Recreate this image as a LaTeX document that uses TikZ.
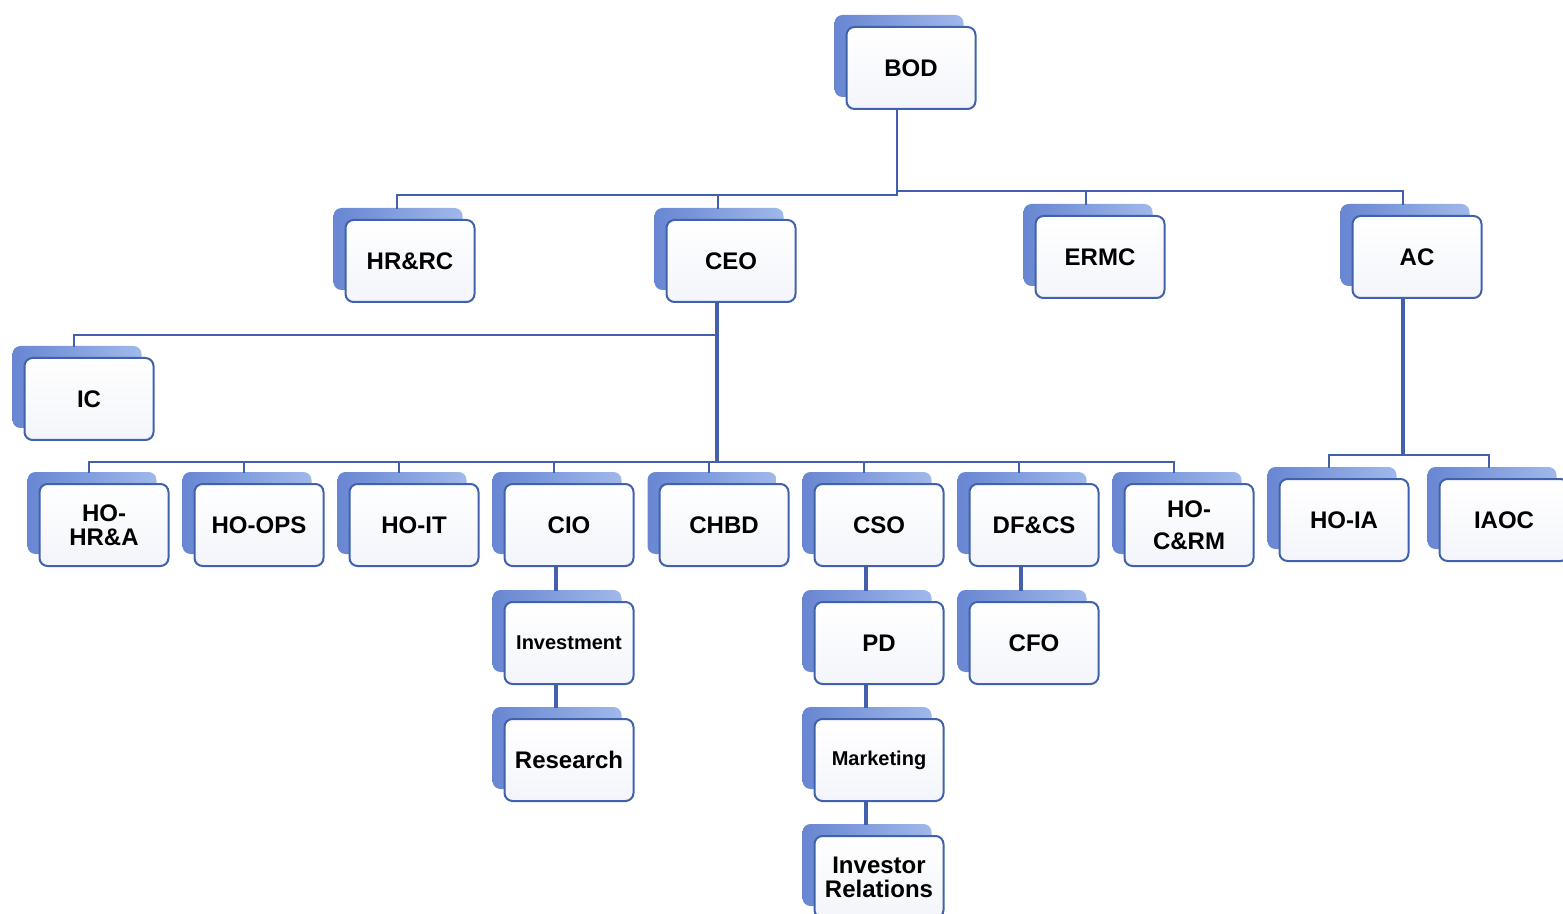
\documentclass[tikz,border=0pt]{standalone}
\usepackage{fontspec}
\setmainfont{Liberation Sans}
\usetikzlibrary{shadows}
\definecolor{linkblue}{RGB}{66,96,172}
\definecolor{boxedge}{RGB}{64,98,172}
\definecolor{boxfill}{RGB}{243,245,251}
\definecolor{shadowdark}{RGB}{104,134,210}
\definecolor{shadowlight}{RGB}{160,184,234}
\tikzset{
  unit/.style={draw=boxedge,line width=1pt,rounded corners=4pt,
    top color=white,bottom color=boxfill,
    minimum width=64.5pt,minimum height=41pt,align=center,
    font=\fontsize{12}{12}\selectfont\bfseries,
    general shadow={shadow xshift=-6pt,shadow yshift=6pt,
      left color=shadowdark,right color=shadowlight,draw=none}},
  small/.style={font=\fontsize{10}{11}\selectfont\bfseries},
  link/.style={draw=linkblue,line width=1pt},
  trunk/.style={draw=linkblue,line width=2pt}
}
\begin{document}
\begin{tikzpicture}[x=0.5pt,y=-0.5pt]
    \useasboundingbox (0,0) rectangle (1563,914);
    % board level
    \node[unit] (bod) at (911,68) {BOD};
    \node[unit] (hrrc) at (410,261) {HR\&RC};
    \node[unit] (ceo) at (731,261) {CEO};
    \node[unit] (ermc) at (1100,257) {ERMC};
    \node[unit] (ac) at (1417,257) {AC};
    % management level
    \node[unit] (ic) at (89,399) {IC};
    \node[unit] (hohra) at (104,525) {HO-\\HR\&A};
    \node[unit] (hoops) at (259,525) {HO-OPS};
    \node[unit] (hoit) at (414,525) {HO-IT};
    \node[unit] (cio) at (569,525) {CIO};
    \node[unit] (chbd) at (724,525) {CHBD};
    \node[unit] (cso) at (879,525) {CSO};
    \node[unit] (dfcs) at (1034,525) {DF\&CS};
    \node[unit] (hocrm) at (1189,525) {HO-\\[4pt]C\&RM};
    \node[unit] (hoia) at (1344,520) {HO-IA};
    \node[unit] (iaoc) at (1504,520) {IAOC};
    % lower units
    \node[unit,small] (invest) at (569,643) {Investment};
    \node[unit] (research) at (569,760) {Research};
    \node[unit] (pd) at (879,643) {PD};
    \node[unit] (cfo) at (1034,643) {CFO};
    \node[unit,small] (mkt) at (879,760) {Marketing};
    \node[unit] (ir) at (879,877) {Investor\\Relations};

    % connectors
    \coordinate (bodbus) at (897,193);
    \draw[link] ([xshift=-7pt]bod.south) -- (bodbus);
    \draw[link] (bodbus) -- ++(0,2) -| ([shift={(-6.5pt,5pt)}]hrrc.north);
    \draw[link] (bodbus) -- ++(0,2) -| ([shift={(-6.5pt,5pt)}]ceo.north);
    \draw[link] (bodbus) -- ++(0,-2) -| ([shift={(-7pt,5pt)}]ermc.north);
    \draw[link] (bodbus) -- ++(0,-2) -| ([shift={(-7pt,5pt)}]ac.north);

    \coordinate (ceobus) at (717,462);
    \draw[trunk] ([xshift=-7pt]ceo.south) -- (ceobus);
    \draw[link] ([xshift=-7pt]ceo.south) ++(0,32) -| ([shift={(-7.5pt,5pt)}]ic.north);
    \foreach \n in {hohra,hoops,hoit,cio,chbd,cso,dfcs,hocrm}
      \draw[link] (ceobus) -| ([shift={(-7.5pt,5pt)}]\n.north);

    \coordinate (acbus) at (1403,455);
    \draw[trunk] ([xshift=-7pt]ac.south) -- (acbus);
    \foreach \n in {hoia,iaoc}
      \draw[link] (acbus) -| ([shift={(-7.5pt,5pt)}]\n.north);

    \draw[trunk] ([xshift=-6.5pt]cio.south) -- ([shift={(-6.5pt,5pt)}]invest.north);
    \draw[trunk] ([xshift=-6.5pt]invest.south) -- ([shift={(-6.5pt,5pt)}]research.north);
    \draw[trunk] ([xshift=-6.5pt]cso.south) -- ([shift={(-6.5pt,5pt)}]pd.north);
    \draw[trunk] ([xshift=-6.5pt]pd.south) -- ([shift={(-6.5pt,5pt)}]mkt.north);
    \draw[trunk] ([xshift=-6.5pt]mkt.south) -- ([shift={(-6.5pt,5pt)}]ir.north);
    \draw[trunk] ([xshift=-6.5pt]dfcs.south) -- ([shift={(-6.5pt,5pt)}]cfo.north);
\end{tikzpicture}
\end{document}
